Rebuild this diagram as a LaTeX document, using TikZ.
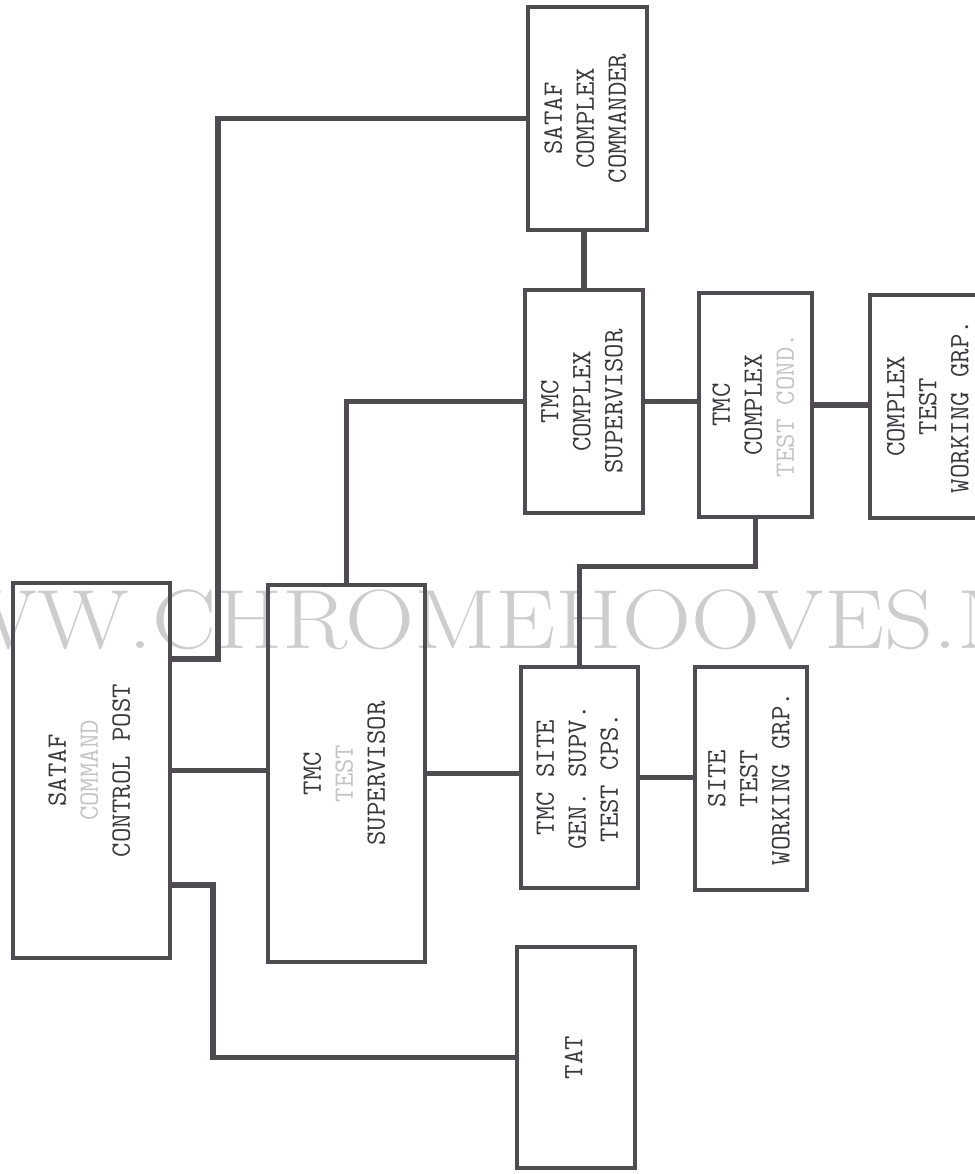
\documentclass[tikz,border=0pt]{standalone}
\usepackage{graphicx}
\usetikzlibrary{calc}

\definecolor{ink}{RGB}{78,76,80}
\definecolor{type}{RGB}{58,56,60}
\definecolor{wmark}{RGB}{205,205,205}
\newcommand{\faded}[1]{\textcolor{type!30}{#1}}
\newcommand{\vlabel}[1]{\rotatebox{90}{\begin{tabular}{@{}c@{}}#1\end{tabular}}}

\begin{document}
\begin{tikzpicture}[x=0.5pt,y=-0.5pt,
    unit/.style={draw=ink,line width=1.6pt,inner sep=0pt,text=type,
      font=\ttfamily\fontsize{14}{16}\selectfont},
    link/.style={draw=ink,line width=2.8pt}]
  \useasboundingbox (0,0) rectangle (975,1174);

  % watermark
  \node[anchor=base west,inner sep=0pt,xscale=1.14,text=wmark,font=\fontsize{42}{42}\selectfont]
    (wm) at (152,648) {\llap{WWW.}CHROMEHOOVES.NET};

  % boxes: name/x/y/width/height/text
  \foreach \n/\x/\y/\w/\h/\t in {
      cp/91.5/770.5/157/375/{SATAF\\\faded{COMMAND}\\CONTROL POST},
      tsup/346.5/773.5/157/377/{TMC\\\faded{TEST}\\SUPERVISOR},
      cc/587.5/118.5/119/223/{SATAF\\COMPLEX\\COMMANDER},
      csup/584/401.5/118/223/{TMC\\COMPLEX\\SUPERVISOR},
      ctc/755.5/405/113/224/{TMC\\COMPLEX\\\faded{TEST COND.}},
      cwg/930/406.5/120/223/{COMPLEX\\TEST\\WORKING GRP.},
      site/579.5/777.5/117/221/{TMC SITE\\GEN. SUPV.\\TEST CPS.},
      swg/751/778.5/112/223/{SITE\\TEST\\WORKING GRP.},
      tat/576/1057.5/118/221/{TAT}}
    \node[unit,minimum width=\w*0.5pt,minimum height=\h*0.5pt] (\n) at (\x,\y) {\vlabel{\t}};

  % connectors
  \coordinate (k1) at (218,659);
  \coordinate (k2) at (213,885);
  \draw[link] (cp.east |- k1) -- (k1) |- (cc.west);
  \draw[link] (cp.east) -- (cp.east -| tsup.west);
  \draw[link] (cp.east |- k2) -- (k2) |- (tat.west);
  \draw[link] (tsup.north) |- (csup.west);
  \draw[link] (tsup.east) -- (tsup.east -| site.west);
  \draw[link] (csup.north) -- (csup.north |- cc.south);
  \draw[link] (csup.east) -- (csup.east -| ctc.west);
  \draw[link] (ctc.east) -- (ctc.east -| cwg.west);
  \draw[link] (site.east) -- (site.east -| swg.west);
  \draw[link] (site.north) |- ($(ctc.south)+(0,48)$) -- (ctc.south);
\end{tikzpicture}
\end{document}
